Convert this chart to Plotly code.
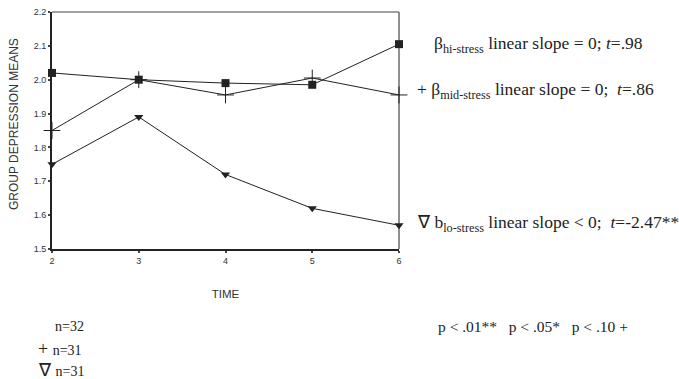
import plotly.graph_objects as go

time = [2, 3, 4, 5, 6]
hi_stress = [2.02, 2.00, 1.99, 1.985, 2.105]
mid_stress = [1.85, 2.00, 1.955, 2.005, 1.955]
lo_stress = [1.75, 1.89, 1.72, 1.62, 1.57]
y_ticks = [1.5, 1.6, 1.7, 1.8, 1.9, 2.0, 2.1, 2.2]

fig = go.Figure()
fig.add_trace(go.Scatter(x=time, y=hi_stress, mode="lines+markers",
                         line=dict(color="#222", width=1),
                         marker=dict(symbol="square", size=8, color="#222"),
                         cliponaxis=False, showlegend=False))
fig.add_trace(go.Scatter(x=time, y=mid_stress, mode="lines+markers",
                         line=dict(color="#222", width=1),
                         marker=dict(symbol="cross-thin", size=12, line=dict(color="#222", width=1)),
                         cliponaxis=False, showlegend=False))
fig.add_trace(go.Scatter(x=time, y=lo_stress, mode="lines+markers",
                         line=dict(color="#222", width=1),
                         marker=dict(symbol="triangle-down", size=8, color="#222"),
                         cliponaxis=False, showlegend=False))

fig.update_layout(
    width=679, height=379,
    margin=dict(l=52, r=280, t=12, b=130, autoexpand=False),
    plot_bgcolor="white", paper_bgcolor="white",
    font=dict(family="Liberation Sans, Arial", color="#333"),
    xaxis=dict(range=[2, 6], tickvals=time, showgrid=False, zeroline=False,
               showline=True, linecolor="#222", linewidth=2,
               ticks="outside", ticklen=2, tickwidth=2, tickcolor="#444",
               tickfont=dict(size=9, color="#333"),
               title=dict(text="TIME", font=dict(size=11.5, color="#333"), standoff=25)),
    yaxis=dict(range=[1.5, 2.2], tickvals=y_ticks, tickformat=".1f", showgrid=False, zeroline=False,
               showline=True, linecolor="#222", linewidth=2,
               ticks="outside", ticklen=2, tickwidth=2, tickcolor="#444",
               tickfont=dict(size=9, color="#333")),
)

fig.add_shape(type="line", xref="paper", yref="paper", x0=0, x1=1, y0=1, y1=1,
              line=dict(color="#444", width=1))
fig.add_shape(type="line", xref="paper", yref="paper", x0=1, x1=1, y0=0, y1=1,
              line=dict(color="#222", width=1))

W = 679 - 52 - 280
H = 379 - 12 - 130
def px(xp): return (xp - 52) / W
def py(yp): return (379 - 130 - yp) / H

fig.add_annotation(text="GROUP DEPRESSION MEANS", xref="paper", yref="paper",
                   x=px(14), y=py(124), xanchor="center", yanchor="middle",
                   textangle=-90, showarrow=False,
                   font=dict(family="Liberation Sans, Arial", size=12, color="#333"))

serif = "Liberation Serif, Times New Roman"
def ann(text, x, y, size=17.5):
    fig.add_annotation(text=text, xref="paper", yref="paper", x=x, y=y,
                       xanchor="left", yanchor="middle", showarrow=False,
                       font=dict(family=serif, size=size, color="#222"))

ann("β<sub>hi-stress</sub> linear slope = 0; <i>t</i>=.98", px(432), py(44))
ann("+ β<sub>mid-stress</sub> linear slope = 0;  <i>t</i>=.86", px(415), py(90))
ann("∇ b<sub>lo-stress</sub> linear slope < 0;  <i>t</i>=-2.47**", px(415), py(223))
ann("n=32", px(53), py(326), 14)
ann("<span style='font-size:18px'>+ </span>n=31", px(36), py(349), 14)
ann("<span style='font-size:18px'>∇ </span>n=31", px(36), py(370), 14)
ann("p < .01**   p < .05*   p < .10 +", px(436), py(326), 15.5)

fig.write_html("out.html", config={"displayModeBar": False},
               post_script="document.body.style.margin='0';")
